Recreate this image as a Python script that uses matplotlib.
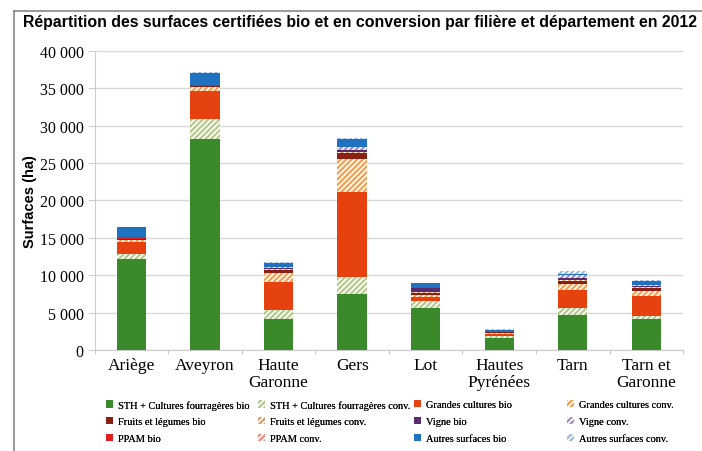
import matplotlib
matplotlib.use("Agg")
import matplotlib.pyplot as plt
from matplotlib.patches import Patch
from matplotlib.lines import Line2D
import numpy as np

departements = ["Ariège", "Aveyron", "Haute\nGaronne", "Gers", "Lot", "Hautes\nPyrénées", "Tarn", "Tarn et\nGaronne"]

sth_bio      = [12200, 28200, 4150, 7500, 5600, 1600, 4680, 4150]
sth_conv     = [700, 2700, 1200, 2250, 900, 250, 900, 400]
gc_bio       = [1500, 3750, 3700, 11350, 650, 350, 2400, 2650]
gc_conv      = [350, 550, 1200, 4400, 150, 100, 800, 650]
fruits_bio   = [100, 100, 500, 900, 300, 100, 500, 500]
fruits_conv  = [50, 0, 100, 100, 200, 50, 100, 100]
vigne_bio    = [0, 50, 150, 250, 450, 0, 200, 150]
vigne_conv   = [0, 0, 100, 400, 100, 0, 400, 50]
ppam_bio     = [150, 50, 50, 0, 0, 0, 50, 0]
ppam_conv    = [50, 0, 0, 0, 0, 0, 0, 0]
autres_bio   = [1300, 1600, 500, 1100, 550, 200, 100, 600]
autres_conv  = [50, 150, 100, 100, 0, 100, 400, 50]

series_names = ["STH + Cultures fourragères bio", "STH + Cultures fourragères conv.",
                "Grandes cultures bio", "Grandes cultures conv.",
                "Fruits et légumes bio", "Fruits et légumes conv.",
                "Vigne bio", "Vigne conv.",
                "PPAM bio", "PPAM conv.",
                "Autres surfaces bio", "Autres surfaces conv."]
series_values = [sth_bio, sth_conv, gc_bio, gc_conv, fruits_bio, fruits_conv,
                 vigne_bio, vigne_conv, ppam_bio, ppam_conv, autres_bio, autres_conv]
series_colors = ["#3a8a2c", "#b5c98a", "#e6420f", "#f4a04e",
                 "#8a1f14", "#d99a6a", "#5a2a6e", "#a58ac0",
                 "#e11d1d", "#ef8a80", "#1e72c0", "#9bb8e0"]
series_hatched = [False, True] * 6

yticks = [0, 5000, 10000, 15000, 20000, 25000, 30000, 35000, 40000]
ytick_labels = ["0", "5 000", "10 000", "15 000", "20 000", "25 000", "30 000", "35 000", "40 000"]

serif = "Liberation Serif"
sans = "Liberation Sans"

plt.rcParams["hatch.linewidth"] = 1.6

fig = plt.figure(figsize=(7.02, 4.52), dpi=100)
ax = fig.add_axes([0.135, 0.2235, 0.838, 0.6615])

x = np.arange(len(departements))
bottom = np.zeros(len(departements))
handles = []
for name, vals, col, hat in zip(series_names, series_values, series_colors, series_hatched):
    vals = np.array(vals, dtype=float)
    if hat:
        ax.bar(x, vals, 0.4, bottom=bottom, facecolor="white", edgecolor=col,
               hatch="//////", linewidth=0, zorder=3)
        handles.append(Patch(facecolor="white", edgecolor=col, hatch="//////", linewidth=0))
    else:
        ax.bar(x, vals, 0.4, bottom=bottom, color=col, linewidth=0, zorder=3)
        handles.append(Patch(facecolor=col, edgecolor=col, linewidth=0))
    bottom += vals

ax.set_xlim(-0.5, len(departements) - 0.5)
ax.set_ylim(0, 40000)
ax.set_yticks(yticks)
ax.set_yticklabels(ytick_labels, fontfamily=serif, fontsize=11.5)
ax.set_xticks(x)
ax.set_xticklabels(departements, fontfamily=serif, fontsize=12.5, linespacing=1.1)
ax.set_xticks(np.arange(-0.5, len(departements)), minor=True)
ax.tick_params(axis="x", which="major", length=0, pad=5)
ax.tick_params(axis="x", which="minor", length=3, color="#bbbbbb")
ax.tick_params(axis="y", length=5, color="#cccccc", pad=3)
ax.grid(axis="y", color="#d8d8d8", linewidth=1, zorder=0)
for s in ["top", "right"]:
    ax.spines[s].set_visible(False)
ax.spines["left"].set_color("#cccccc")
ax.spines["bottom"].set_color("#cccccc")

ax.set_ylabel("Surfaces (ha)", fontfamily=sans, fontweight="bold", fontsize=10.5)
ax.yaxis.set_label_coords(-0.098, 0.5)

fig.text(0.513, 0.951, "Répartition des surfaces certifiées bio et en conversion par filière et département en 2012",
         ha="center", va="center", fontfamily=sans, fontweight="bold", fontsize=11.4)

# four legend columns: (indices, left x in figure pixels)
legend_cols = [([0, 4, 8], 106), ([1, 5, 9], 258), ([2, 6, 10], 414), ([3, 7, 11], 567)]
for idxs, px in legend_cols:
    lg = fig.legend([handles[i] for i in idxs], [series_names[i] for i in idxs],
                    loc="upper left", bbox_to_anchor=(px / 702, 1 - 401 / 452), ncol=1,
                    frameon=False, prop={"family": serif, "size": 7.5},
                    handlelength=0.7, handleheight=0.7, handletextpad=0.45,
                    labelspacing=0.72, borderaxespad=0, borderpad=0)
    fig.add_artist(lg)

fig.add_artist(Line2D([0.02, 0.02], [0.0, 0.973], color="#888888", linewidth=1.2, transform=fig.transFigure))
fig.add_artist(Line2D([0.02, 1.0], [0.973, 0.973], color="#888888", linewidth=1.2, transform=fig.transFigure))

fig.savefig("out.png", dpi=100)
